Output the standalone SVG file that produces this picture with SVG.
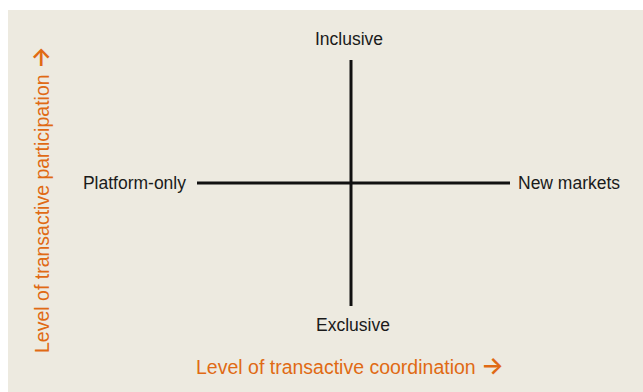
<svg xmlns="http://www.w3.org/2000/svg" width="643" height="392" viewBox="0 0 643 392">
<style>
.lbl{font-family:"Liberation Sans",Arial,sans-serif;font-size:17.5px;fill:#1a1a1a}
.ax{font-family:"Liberation Sans",Arial,sans-serif;font-size:19.5px;fill:#e06a14}
.arr{font-family:Inter,"DejaVu Sans",sans-serif;font-size:24px;font-weight:600}
.ln{stroke:#111;stroke-width:3}
</style>
<rect x="0" y="0" width="643" height="392" fill="#fff"/>
<rect x="8" y="10" width="635" height="382" fill="#edeae0"/>
<g id="connectors">
<line class="ln" x1="351" y1="60" x2="351" y2="306"/>
<line class="ln" x1="197" y1="183" x2="510" y2="183"/>
</g>
<g id="inclusive"><text class="lbl" x="349" y="45" text-anchor="middle">Inclusive</text></g>
<g id="exclusive"><text class="lbl" x="353" y="331" text-anchor="middle">Exclusive</text></g>
<g id="platform-only"><text class="lbl" x="186" y="189" text-anchor="end">Platform-only</text></g>
<g id="new-markets"><text class="lbl" x="518" y="189">New markets</text></g>
<g id="x-axis"><text class="ax" x="196" y="374">Level of transactive coordination <tspan class="arr">→</tspan></text></g>
<g id="y-axis"><text class="ax" transform="translate(49,353) rotate(-90)">Level of transactive participation <tspan class="arr">→</tspan></text></g>
</svg>
